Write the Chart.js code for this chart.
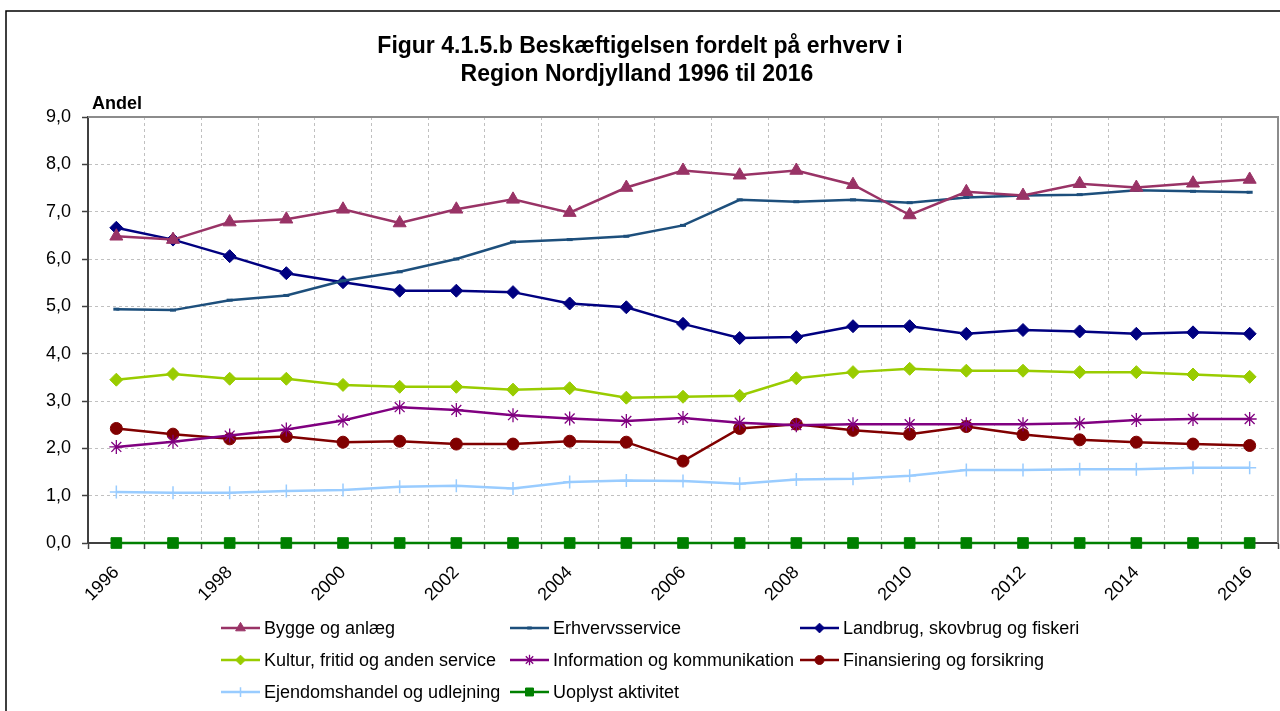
<!DOCTYPE html>
<html>
<head>
<meta charset="utf-8">
<script src="https://cdn.jsdelivr.net/npm/chart.js@4/dist/chart.umd.min.js"></script>
<style>
  html, body { margin: 0; padding: 0; background: #fff; }
  #wrap { width: 1280px; height: 711px; }
</style>
</head>
<body>
<div id="wrap"><canvas id="chart" width="1280" height="711"></canvas></div>
<script>
const years = ["1996", "1997", "1998", "1999", "2000", "2001", "2002", "2003", "2004", "2005", "2006",
  "2007", "2008", "2009", "2010", "2011", "2012", "2013", "2014", "2015", "2016"];

const bygge = [6.48, 6.41, 6.78, 6.84, 7.05, 6.76, 7.05, 7.26, 6.98, 7.51, 7.87,
  7.77, 7.87, 7.57, 6.93, 7.42, 7.34, 7.59, 7.51, 7.60, 7.68];
const erhvervsservice = [4.94, 4.92, 5.13, 5.23, 5.54, 5.73, 6.00, 6.36, 6.41, 6.48, 6.71,
  7.25, 7.21, 7.25, 7.19, 7.30, 7.34, 7.36, 7.45, 7.43, 7.41];
const landbrug = [6.66, 6.41, 6.06, 5.70, 5.51, 5.33, 5.33, 5.30, 5.06, 4.98, 4.63,
  4.33, 4.35, 4.58, 4.58, 4.42, 4.50, 4.47, 4.42, 4.45, 4.42];
const kultur = [3.45, 3.57, 3.47, 3.47, 3.34, 3.30, 3.30, 3.24, 3.27, 3.07, 3.09,
  3.11, 3.48, 3.61, 3.68, 3.64, 3.64, 3.61, 3.61, 3.56, 3.51];
const information = [2.03, 2.14, 2.27, 2.40, 2.59, 2.87, 2.81, 2.70, 2.63, 2.58, 2.64,
  2.54, 2.49, 2.51, 2.51, 2.51, 2.51, 2.53, 2.60, 2.62, 2.62];
const finansiering = [2.42, 2.30, 2.20, 2.25, 2.13, 2.15, 2.09, 2.09, 2.15, 2.13, 1.73,
  2.42, 2.51, 2.38, 2.30, 2.46, 2.29, 2.18, 2.13, 2.09, 2.06];
const ejendom = [1.08, 1.06, 1.06, 1.10, 1.12, 1.19, 1.21, 1.15, 1.29, 1.32, 1.31,
  1.25, 1.34, 1.36, 1.42, 1.54, 1.54, 1.56, 1.56, 1.59, 1.59];
const uoplyst = [0, 0, 0, 0, 0, 0, 0, 0, 0, 0, 0,
  0, 0, 0, 0, 0, 0, 0, 0, 0, 0];

const FONT = '"Liberation Sans", Arial, sans-serif';

function series(label, data, color, style, radius, extra) {
  return Object.assign({
    label: label,
    data: data,
    borderColor: color,
    backgroundColor: color,
    borderWidth: 2.5,
    pointStyle: style,
    pointRadius: radius,
    pointHoverRadius: radius,
    pointBackgroundColor: color,
    pointBorderColor: color,
    pointBorderWidth: 1,
    tension: 0,
    clip: false,
  }, extra || {});
}

const datasets = [
  series("Bygge og anlæg", bygge, "#993366", "triangle", 7.5),
  series("Erhvervsservice", erhvervsservice, "#1d4f7c", "line", 3, { pointBorderWidth: 3 }),
  series("Landbrug, skovbrug og fiskeri", landbrug, "#000080", "rectRot", 6.5),
  series("Kultur, fritid og anden service", kultur, "#99cc00", "rectRot", 6.5),
  series("Information og kommunikation", information, "#800080", "star", 7, { pointBorderWidth: 1.3 }),
  series("Finansiering og forsikring", finansiering, "#800000", "circle", 6),
  series("Ejendomshandel og udlejning", ejendom, "#99ccff", "cross", 6.5, { pointBorderWidth: 1.5 }),
  series("Uoplyst aktivitet", uoplyst, "#008000", "rect", 7.5),
];

// title, "Andel", frame and legend
const decorations = {
  id: "decorations",
  beforeDatasetsDraw(chart) {
    const { ctx, chartArea: a } = chart;
    ctx.save();
    ctx.strokeStyle = "#8c8c8c";
    ctx.lineWidth = 2;
    ctx.beginPath();
    ctx.moveTo(a.left, a.top);
    ctx.lineTo(a.right, a.top);
    ctx.lineTo(a.right, a.bottom);
    ctx.stroke();
    ctx.restore();
  },
  afterDraw(chart) {
    const ctx = chart.ctx;
    ctx.save();
    // outer frame
    ctx.strokeStyle = "#000";
    ctx.lineWidth = 1.5;
    ctx.beginPath();
    ctx.moveTo(6, 711);
    ctx.lineTo(6, 11);
    ctx.lineTo(1280, 11);
    ctx.stroke();

    ctx.fillStyle = "#000";
    ctx.textAlign = "center";
    ctx.textBaseline = "middle";
    ctx.font = "bold 23px " + FONT;
    ctx.fillText("Figur 4.1.5.b Beskæftigelsen fordelt på erhverv i", 640, 47);
    ctx.fillText("Region Nordjylland 1996 til 2016", 637, 75);

    ctx.textAlign = "left";
    ctx.font = "bold 18px " + FONT;
    ctx.fillText("Andel", 92, 104);

    // legend, 3 columns
    const colX = [221, 510, 800];
    const rowY = [628, 660, 692];
    ctx.font = "18px " + FONT;
    chart.data.datasets.forEach((ds, i) => {
      const x = colX[i % 3];
      const y = rowY[Math.floor(i / 3)];
      ctx.strokeStyle = ds.borderColor;
      ctx.fillStyle = ds.borderColor;
      ctx.lineWidth = 2.5;
      ctx.beginPath();
      ctx.moveTo(x, y);
      ctx.lineTo(x + 39, y);
      ctx.stroke();
      ctx.lineWidth = ds.pointBorderWidth;
      Chart.helpers.drawPoint(ctx, {
        pointStyle: ds.pointStyle,
        radius: ds.pointRadius * 0.75,
        rotation: 0,
        borderWidth: ds.pointBorderWidth,
      }, x + 19.5, y);
      ctx.fillStyle = "#000";
      ctx.fillText(ds.label, x + 43, y + 1);
    });
    ctx.restore();
  },
};

new Chart(document.getElementById("chart").getContext("2d"), {
  type: "line",
  data: { labels: years, datasets: datasets },
  plugins: [decorations],
  options: {
    responsive: false,
    animation: false,
    devicePixelRatio: 1,
    layout: { autoPadding: false, padding: { top: 117, right: 2, bottom: 0, left: 0 } },
    plugins: {
      legend: { display: false },
      title: { display: false },
      tooltip: { enabled: false },
    },
    scales: {
      x: {
        type: "category",
        offset: true,
        grid: {
          offset: true,
          color: "#c0c0c0",
          lineWidth: 1,
          tickLength: 6,
          tickColor: "#404040",
          tickWidth: 1.5,
          tickBorderDash: [],
        },
        border: { color: "#404040", width: 2, dash: [3, 3] },
        ticks: {
          autoSkip: false,
          minRotation: 45,
          maxRotation: 45,
          padding: 13,
          color: "#000",
          font: { family: FONT, size: 18 },
          callback: function (value, index) {
            return index % 2 === 0 ? years[index] : "";
          },
        },
        afterFit(scale) {
          scale.height = 168;
          scale.paddingLeft = 0;
          scale.paddingRight = 0;
        },
      },
      y: {
        min: 0,
        max: 9,
        grid: {
          color: "#c0c0c0",
          lineWidth: 1,
          tickLength: 6,
          tickColor: "#404040",
          tickWidth: 1.5,
          tickBorderDash: [],
        },
        border: { color: "#404040", width: 2, dash: [3, 3] },
        ticks: {
          stepSize: 1,
          padding: 11,
          color: "#000",
          font: { family: FONT, size: 18 },
          callback: (v) => v.toFixed(1).replace(".", ","),
        },
        afterFit(scale) { scale.width = 88; },
      },
    },
  },
});
</script>
</body>
</html>
